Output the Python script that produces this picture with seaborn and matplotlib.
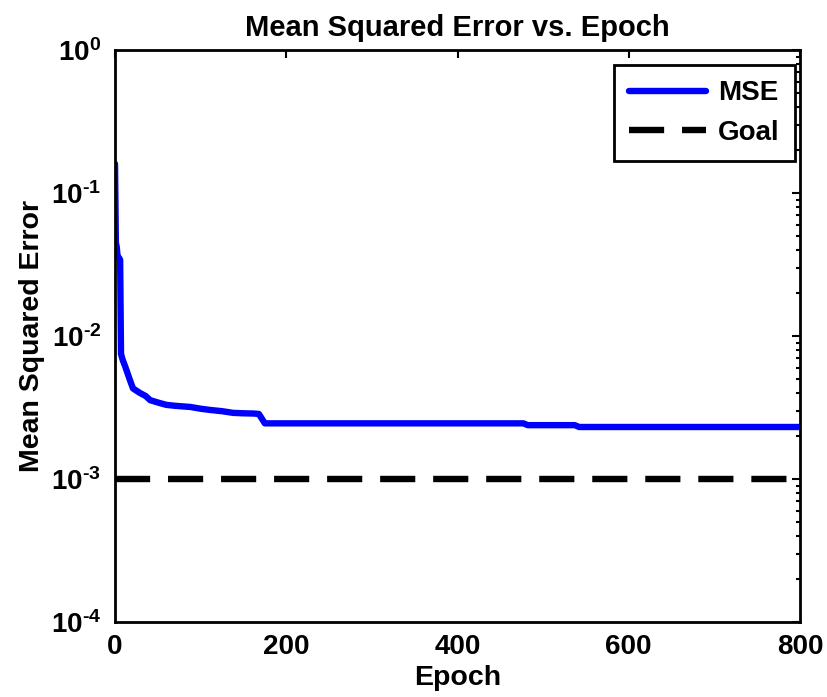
import numpy as np
import pandas as pd
import matplotlib
matplotlib.use("Agg")
import matplotlib.pyplot as plt
import seaborn as sns
from matplotlib.ticker import FixedLocator, LogLocator, NullFormatter, FuncFormatter

# ---- data ----
epochs = [0, 1, 2, 3, 5, 6, 7, 9, 12, 17, 21, 29, 36, 41, 52, 60, 70, 88, 100, 111,
          125, 138, 150, 162, 168, 175, 477, 482, 537, 542, 800]
mse = [0.16, 0.045, 0.042, 0.036, 0.035, 0.034, 0.0075, 0.0068, 0.0061, 0.0050, 0.0043,
       0.0040, 0.0038, 0.00356, 0.0034, 0.0033, 0.00325, 0.00319, 0.0031, 0.00304,
       0.00298, 0.0029, 0.00288, 0.00287, 0.00285, 0.00245, 0.00245, 0.00238, 0.00238,
       0.00231, 0.00231]
goal = 1e-3
x_ticks = [0, 200, 400, 600, 800]
y_exps = [-4, -3, -2, -1, 0]

df = pd.DataFrame({"Epoch": epochs, "MSE": mse})
df_goal = pd.DataFrame({"Epoch": [0, 800], "Goal": [goal, goal]})

sns.set_theme(style="white")
plt.rcParams["font.family"] = ["Liberation Sans", "DejaVu Sans"]
plt.rcParams["font.weight"] = "bold"
plt.rcParams["text.color"] = "black"
plt.rcParams["axes.labelcolor"] = "black"
plt.rcParams["xtick.color"] = "black"
plt.rcParams["ytick.color"] = "black"
plt.rcParams["axes.unicode_minus"] = False
plt.rcParams["mathtext.fontset"] = "custom"
plt.rcParams["mathtext.rm"] = "Liberation Sans:bold"
plt.rcParams["mathtext.bf"] = "Liberation Sans:bold"
plt.rcParams["mathtext.it"] = "Liberation Sans:bold"

fig = plt.figure(figsize=(8.27, 6.97), dpi=100)
ax = fig.add_axes([115/827, 1-622/697, (800-115)/827, (622-50)/697])

sns.lineplot(data=df, x="Epoch", y="MSE", ax=ax, color="#0000ff", lw=4.6,
             label="MSE", sort=False, estimator=None)
sns.lineplot(data=df_goal, x="Epoch", y="Goal", ax=ax, color="black", lw=4.6,
             label="Goal", estimator=None)
ax.lines[1].set_dashes([5.5, 2.8])

ax.set_yscale("log")
ax.set_xlim(0, 800)
ax.set_ylim(1e-4, 1e0)
ax.xaxis.set_major_locator(FixedLocator(x_ticks))
ax.yaxis.set_major_locator(FixedLocator([10.0**e for e in y_exps]))
ax.yaxis.set_minor_locator(LogLocator(base=10, subs=np.arange(2, 10)))
ax.yaxis.set_minor_formatter(NullFormatter())
ax.yaxis.set_major_formatter(FuncFormatter(lambda v, p: r"$10^{\text{%d}}$" % int(round(np.log10(v)))))

ax.tick_params(axis="both", which="both", direction="in", top=True, right=True,
               labelsize=20, width=1.5, colors="black")
ax.tick_params(which="major", length=6)
ax.tick_params(which="minor", length=3)
ax.tick_params(axis="x", which="major", pad=9)
ax.tick_params(axis="y", which="major", pad=10)
for lab in ax.get_xticklabels() + ax.get_yticklabels():
    lab.set_fontweight("bold")
for s in ax.spines.values():
    s.set_linewidth(2)
    s.set_color("black")

ax.set_xlabel("Epoch", fontsize=20.5, fontweight="bold", labelpad=3, color="black")
ax.set_ylabel("Mean Squared Error", fontsize=20.5, fontweight="bold", labelpad=4, color="black")
ax.set_title("Mean Squared Error vs. Epoch", fontsize=21, fontweight="bold", pad=10, color="black")

leg = ax.legend(loc="upper right", bbox_to_anchor=(1 - 5/685, 1 - 15/572), fontsize=20,
                frameon=True, fancybox=False, framealpha=1,
                handlelength=2.75, borderaxespad=0.0, borderpad=0.55, labelspacing=0.5,
                handletextpad=0.45)
leg.get_frame().set_edgecolor("black")
leg.get_frame().set_linewidth(2)
for t in leg.get_texts():
    t.set_fontweight("bold")
    t.set_color("black")

fig.savefig("out.png", dpi=100)
